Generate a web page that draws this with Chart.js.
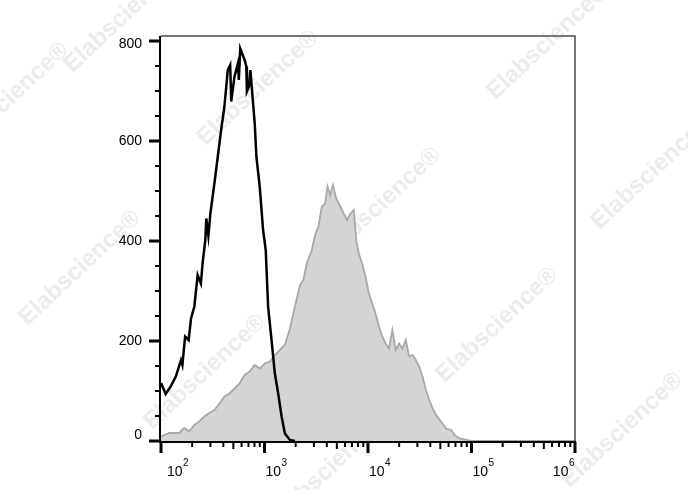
<!DOCTYPE html>
<html>
<head>
<meta charset="utf-8">
<title>Histogram overlay</title>
<script src="https://cdn.jsdelivr.net/npm/chart.js@4.4.1/dist/chart.umd.min.js"></script>
<style>
  html, body { margin: 0; padding: 0; background: #fff; }
  canvas { display: block; }
</style>
</head>
<body>
<canvas id="histChart" width="688" height="490"></canvas>
<script>
// Unstained / isotype control (black outline)
const blackX = [100, 111, 124, 139, 156, 161, 171, 185, 195, 210, 226, 243, 252, 268, 274, 287, 300, 328, 367, 381,
    410, 442, 466, 477, 513, 553, 565, 583, 643, 667, 676, 708, 730, 764, 804, 835, 899, 969, 1028, 1083,
    1169, 1259, 1356, 1463, 1574, 1762, 1969];
const blackY = [116, 94, 109, 129, 162, 152, 209, 202, 245, 269, 332, 315, 355, 402, 445, 410, 455, 515, 595, 622,
    669, 742, 752, 679, 729, 755, 722, 785, 762, 749, 699, 709, 742, 692, 636, 569, 509, 422, 382, 269,
    202, 135, 95, 49, 15, 2, 0];

// Stained sample (grey filled)
const greyX = [100, 120, 150, 168, 187, 210, 234, 262, 293, 328, 367, 410, 459, 513, 574, 643, 718, 804, 899, 1005,
    1124, 1259, 1406, 1574, 1762, 1969, 2202, 2372, 2559, 2864, 3084, 3321, 3581, 3855, 4063, 4315, 4583, 4935, 5399, 5818,
    6276, 6761, 7286, 7734, 8151, 8790, 9466, 10194, 10992, 11836, 12745, 13742, 14800, 15952, 17203, 18530, 19970, 21520, 23180, 24960,
    26910, 28980, 31220, 33650, 36240, 39060, 42130, 45370, 50780, 56810, 63550, 68440, 76560, 85560, 99300, 1000000];
const greyY = [9, 16, 16, 26, 19, 32, 39, 49, 56, 62, 75, 89, 95, 105, 115, 132, 139, 152, 145, 155,
    159, 172, 182, 192, 225, 269, 312, 322, 355, 382, 412, 429, 469, 475, 509, 492, 512, 485, 469, 455,
    442, 455, 462, 399, 375, 355, 329, 295, 275, 255, 229, 209, 195, 185, 222, 182, 195, 185, 202, 169,
    172, 162, 149, 129, 102, 82, 65, 52, 39, 25, 22, 12, 5, 3, 0, 0];

// Axis ticks
const xTickExps = [2, 3, 4, 5, 6];
const yTicks = [0, 200, 400, 600, 800];
const yMinorStep = 50;

// Watermark positions (centre of text)
const markX = [125, 258, 548, 8, 380, 652, 80, 205, 497, 622, 330];
const markY = [15, 88, 42, 100, 205, 172, 268, 372, 325, 430, 468];

const FONT = "'Liberation Sans', Arial, sans-serif";

const toPoints = (xs, ys) => xs.map((x, i) => ({ x: x, y: ys[i] }));

// White background + faint watermark
const backgroundPlugin = {
    id: 'background',
    beforeDraw: (chart) => {
        const ctx = chart.ctx;
        ctx.save();
        ctx.fillStyle = '#ffffff';
        ctx.fillRect(0, 0, chart.width, chart.height);
        ctx.fillStyle = '#ececec';
        ctx.font = `bold 24px ${FONT}`;
        ctx.textAlign = 'center';
        ctx.textBaseline = 'middle';
        markX.forEach((mx, i) => {
            ctx.save();
            ctx.translate(mx, markY[i]);
            ctx.rotate(-0.75);
            ctx.fillText('Elabscience\u00AE', 0, 0);
            ctx.restore();
        });
        ctx.restore();
    }
};

// Frame, ticks and labels drawn from the chart's scales
const axesPlugin = {
    id: 'axes',
    afterDraw: (chart) => {
        const ctx = chart.ctx;
        const area = chart.chartArea;
        const xs = chart.scales.x;
        const ys = chart.scales.y;
        ctx.save();

        // thin top / right frame
        ctx.strokeStyle = '#4a4a4a';
        ctx.lineWidth = 1.5;
        ctx.beginPath();
        ctx.moveTo(area.left, area.top);
        ctx.lineTo(area.right, area.top);
        ctx.lineTo(area.right, area.bottom + 1);
        ctx.stroke();

        // thick left / bottom axes
        ctx.strokeStyle = '#000';
        ctx.lineWidth = 2;
        ctx.beginPath();
        ctx.moveTo(area.left - 1, area.top);
        ctx.lineTo(area.left - 1, area.bottom + 1);
        ctx.lineTo(area.right + 1, area.bottom + 1);
        ctx.stroke();

        // y ticks
        for (let v = 0; v <= ys.max; v += yMinorStep) {
            const py = ys.getPixelForValue(v);
            const major = yTicks.includes(v);
            ctx.lineWidth = major ? 3 : 2;
            ctx.beginPath();
            ctx.moveTo(area.left - 1, py);
            ctx.lineTo(area.left - (major ? 12 : 6), py);
            ctx.stroke();
        }
        ctx.fillStyle = '#000';
        ctx.font = `14px ${FONT}`;
        ctx.textAlign = 'right';
        ctx.textBaseline = 'middle';
        yTicks.forEach((v, i) => {
            let py = ys.getPixelForValue(v);
            if (i === 0) py -= 6;
            if (i === yTicks.length - 1) py += 3;
            ctx.fillText(String(v), 142, py);
        });

        // x ticks (log decades with minor ticks)
        const by = area.bottom + 1;
        xTickExps.forEach((e, i) => {
            const base = Math.pow(10, e);
            const px = xs.getPixelForValue(base);
            ctx.lineWidth = 3;
            ctx.beginPath();
            ctx.moveTo(px, by);
            ctx.lineTo(px, by + 11);
            ctx.stroke();
            if (i < xTickExps.length - 1) {
                for (let m = 2; m <= 9; m++) {
                    const mx = xs.getPixelForValue(base * m);
                    ctx.lineWidth = 2;
                    ctx.beginPath();
                    ctx.moveTo(mx, by);
                    ctx.lineTo(mx, by + (m === 5 ? 7 : 5));
                    ctx.stroke();
                }
            }
        });

        // x labels: 10 with superscript exponent
        ctx.textBaseline = 'alphabetic';
        ctx.textAlign = 'left';
        xTickExps.forEach((e, i) => {
            const px = xs.getPixelForValue(Math.pow(10, e));
            ctx.font = `14px ${FONT}`;
            const wBase = ctx.measureText('10').width;
            ctx.font = `10px ${FONT}`;
            const wExp = ctx.measureText(String(e)).width;
            let left = px + 1;
            if (i === 0) left = px + 6;
            if (i === xTickExps.length - 1) left = px - 1 - wBase - wExp;
            ctx.font = `14px ${FONT}`;
            ctx.fillText('10', left, 476);
            ctx.font = `10px ${FONT}`;
            ctx.fillText(String(e), left + wBase + 0.5, 466);
        });

        ctx.restore();
    }
};

const initializeChart = () => {
    const ctx = document.getElementById('histChart').getContext('2d');
    new Chart(ctx, {
        type: 'line',
        data: {
            datasets: [
                {
                    label: 'Control',
                    data: toPoints(blackX, blackY),
                    borderColor: '#000000',
                    borderWidth: 2.5,
                    fill: false,
                    pointRadius: 0,
                    tension: 0,
                    order: 0
                },
                {
                    label: 'Stained',
                    data: toPoints(greyX, greyY),
                    borderColor: '#a8a8a8',
                    backgroundColor: '#d4d4d4',
                    borderWidth: 1.8,
                    fill: 'origin',
                    pointRadius: 0,
                    tension: 0,
                    order: 1
                }
            ]
        },
        options: {
            responsive: false,
            animation: false,
            layout: {
                padding: { left: 161, right: 113, top: 36, bottom: 49 }
            },
            plugins: {
                legend: { display: false },
                tooltip: { enabled: false }
            },
            scales: {
                x: { type: 'logarithmic', min: 100, max: 1000000, display: false },
                y: { type: 'linear', min: 0, max: 810, display: false }
            }
        },
        plugins: [backgroundPlugin, axesPlugin]
    });
};

document.addEventListener('DOMContentLoaded', initializeChart);
</script>
</body>
</html>
